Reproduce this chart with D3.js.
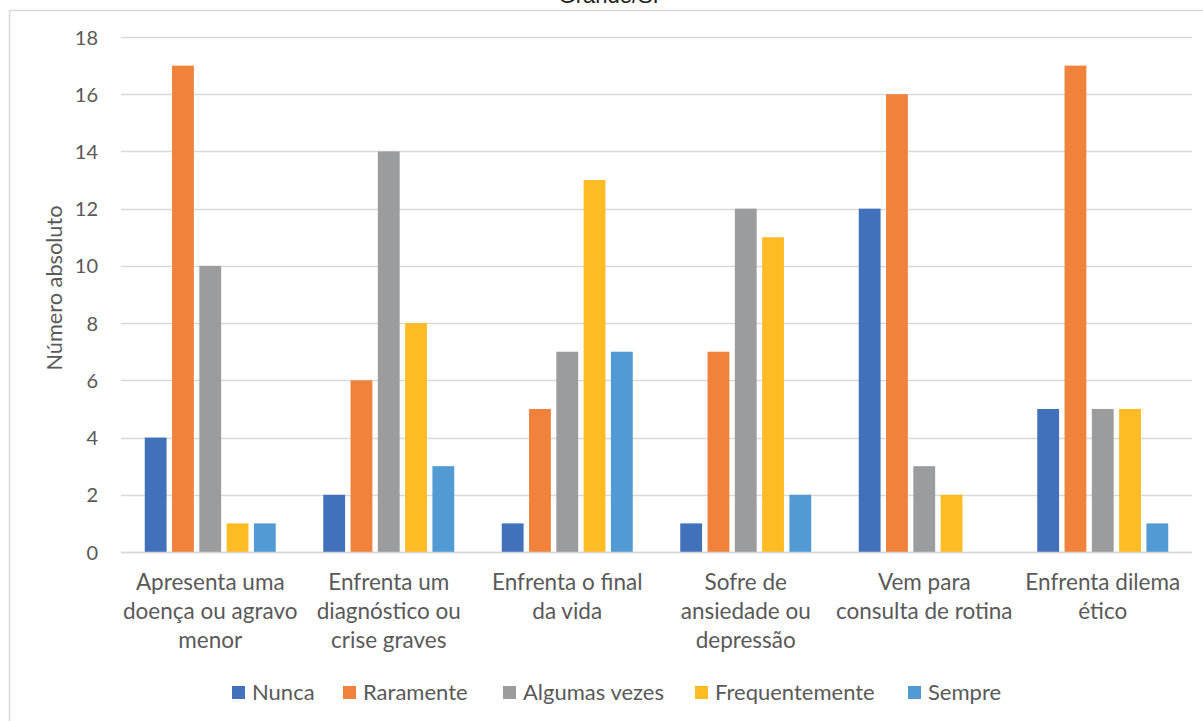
<!DOCTYPE html>
<html>
<head>
<meta charset="utf-8">
<script src="https://cdn.jsdelivr.net/npm/d3@7"></script>
<style>
  html, body { margin: 0; padding: 0; background: #fff; }
  svg { display: block; }
</style>
</head>
<body>
<svg id="chart" width="1203" height="721"></svg>
<script>
// Situations (categories) and response frequencies (series)
const categories = [
  ["Apresenta uma", "doença ou agravo", "menor"],
  ["Enfrenta um", "diagnóstico ou", "crise graves"],
  ["Enfrenta o final", "da vida"],
  ["Sofre de", "ansiedade ou", "depressão"],
  ["Vem para", "consulta de rotina"],
  ["Enfrenta dilema", "ético"]
];
const seriesNames = ["Nunca", "Raramente", "Algumas vezes", "Frequentemente", "Sempre"];
const nunca          = [4, 2, 1, 1, 12, 5];
const raramente      = [17, 6, 5, 7, 16, 17];
const algumasVezes   = [10, 14, 7, 12, 3, 5];
const frequentemente = [1, 8, 13, 11, 2, 5];
const sempre         = [1, 3, 7, 2, 0, 1];
const yTicks = [0, 2, 4, 6, 8, 10, 12, 14, 16, 18];
const colors = ["#4071BA", "#F0823B", "#9A9C9D", "#FDBB24", "#519AD3"];

const seriesValues = [nunca, raramente, algumasVezes, frequentemente, sempre];
const catKeys = categories.map((c, i) => i);

const svg = d3.select("#chart");
const font = "Lato, 'Open Sans', sans-serif";
const textColor = "#595959";

// Chart frame
svg.append("rect")
  .attr("x", 9.5).attr("y", 10.5)
  .attr("width", 1300).attr("height", 800)
  .attr("fill", "none").attr("stroke", "#D9D9D9").attr("stroke-width", 1.5);

// Title (second line)
svg.append("text")
  .attr("x", 613).attr("y", 3)
  .attr("text-anchor", "middle")
  .attr("font-family", "'Liberation Sans', Arial, sans-serif")
  .attr("font-size", 22)
  .attr("fill", "#222")
  .text("Grande/SP");

const plot = { left: 121, right: 1192, top: 37, bottom: 552 };

const y = d3.scaleLinear().domain([0, 18]).range([plot.bottom, plot.top]);
const x0 = d3.scaleBand().domain(catKeys).range([plot.left, plot.right]).padding(0);
const groupW = 131;
const x1 = d3.scaleBand().domain(d3.range(seriesNames.length))
  .range([(x0.bandwidth() - groupW) / 2, (x0.bandwidth() + groupW) / 2])
  .paddingInner(0.2).paddingOuter(0);

// Gridlines
svg.append("g")
  .selectAll("line")
  .data(yTicks)
  .join("line")
  .attr("x1", plot.left).attr("x2", plot.right)
  .attr("y1", d => Math.round(y(d)) + 0.5).attr("y2", d => Math.round(y(d)) + 0.5)
  .attr("stroke", "#D9D9D9").attr("stroke-width", 1.5);

// Y axis tick labels
const yAxis = d3.axisLeft(y).tickValues(yTicks).tickSize(0).tickPadding(0);
const gy = svg.append("g").attr("transform", `translate(${plot.left - 23},0)`).call(yAxis);
gy.select(".domain").remove();
gy.selectAll("text")
  .attr("font-family", font).attr("font-size", 20).attr("fill", textColor)
  .attr("dy", "0.35em");

// Y axis title
svg.append("text")
  .attr("transform", `translate(62,${288}) rotate(-90)`)
  .attr("text-anchor", "middle")
  .attr("font-family", font).attr("font-size", 21).attr("fill", textColor)
  .attr("textLength", 165).attr("lengthAdjust", "spacingAndGlyphs")
  .text("Número absoluto");

// Bars
const groups = svg.append("g").selectAll("g")
  .data(catKeys)
  .join("g")
  .attr("transform", d => `translate(${x0(d)},0)`);

groups.selectAll("rect")
  .data(ci => seriesValues.map((vals, si) => ({ si, v: vals[ci] })))
  .join("rect")
  .attr("x", d => x1(d.si))
  .attr("width", x1.bandwidth())
  .attr("y", d => y(d.v))
  .attr("height", d => y(0) - y(d.v))
  .attr("fill", d => colors[d.si]);

// Baseline
svg.append("line")
  .attr("x1", plot.left).attr("x2", plot.right)
  .attr("y1", Math.round(y(0)) + 0.5).attr("y2", Math.round(y(0)) + 0.5)
  .attr("stroke", "#D9D9D9").attr("stroke-width", 1.5);

// Category labels
const xl = svg.append("g");
categories.forEach((lines, i) => {
  const cx = x0(i) + x0.bandwidth() / 2;
  const t = xl.append("text")
    .attr("text-anchor", "middle")
    .attr("font-family", font).attr("font-size", 22.5).attr("fill", textColor);
  lines.forEach((ln, j) => {
    t.append("tspan").attr("x", cx).attr("y", 590 + j * 29).text(ln);
  });
});

// Legend
const legendX = [232, 343, 503, 695, 908];
const lg = svg.append("g");
seriesNames.forEach((name, i) => {
  lg.append("rect")
    .attr("x", legendX[i]).attr("y", 686)
    .attr("width", 13).attr("height", 13)
    .attr("fill", colors[i]);
  lg.append("text")
    .attr("x", legendX[i] + 20).attr("y", 700)
    .attr("font-family", font).attr("font-size", 22).attr("fill", textColor)
    .text(name);
});
</script>
</body>
</html>
